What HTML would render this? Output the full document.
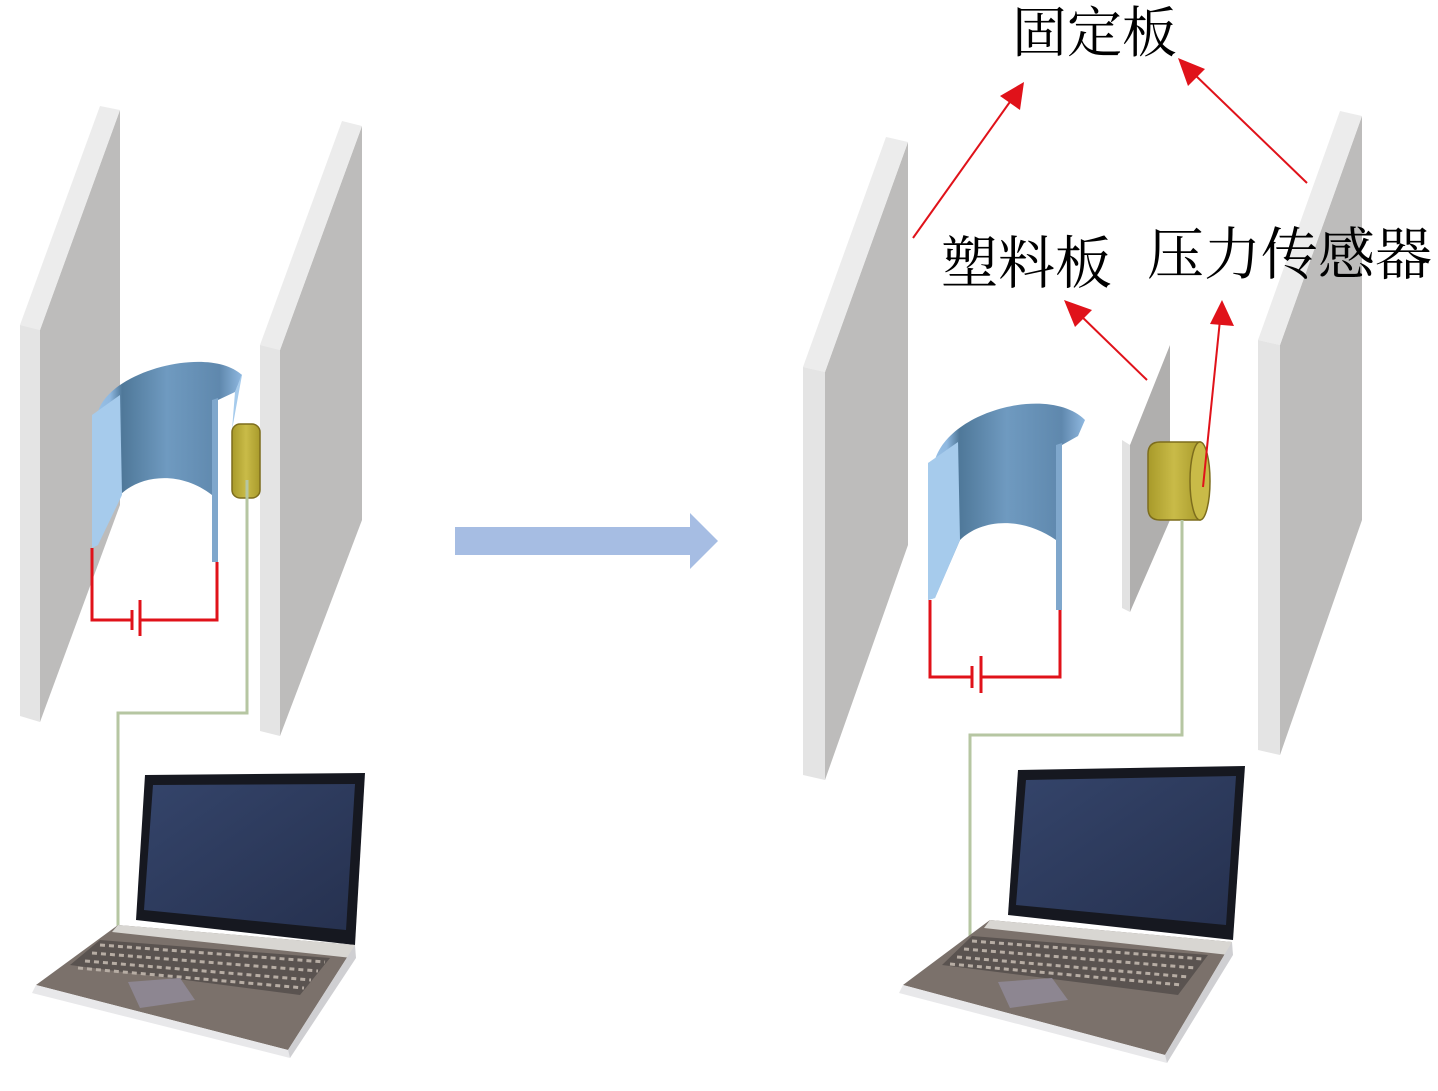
<!DOCTYPE html>
<html><head><meta charset="utf-8"><style>
html,body{margin:0;padding:0;background:#fff;}
svg{display:block}
text{font-family:"Liberation Serif","Noto Serif CJK SC",serif;fill:#000}
</style></head><body>
<svg width="1438" height="1091" viewBox="0 0 1438 1091" xmlns="http://www.w3.org/2000/svg">
<defs>
<linearGradient id="cyl" x1="0" x2="1" y1="0" y2="0">
<stop offset="0" stop-color="#9cc4e8"/><stop offset="0.12" stop-color="#8fb8e0"/>
<stop offset="0.2" stop-color="#4f7899"/><stop offset="0.5" stop-color="#6f9ac0"/>
<stop offset="0.85" stop-color="#5f88ad"/><stop offset="1" stop-color="#8fb8e0"/>
</linearGradient>
<linearGradient id="scr" x1="0" x2="1" y1="0" y2="1">
<stop offset="0" stop-color="#34446a"/><stop offset="1" stop-color="#26314f"/>
</linearGradient>
<linearGradient id="yel" x1="0" x2="1"><stop offset="0" stop-color="#a89a2a"/><stop offset="0.5" stop-color="#c9bb48"/><stop offset="1" stop-color="#a99b2c"/></linearGradient>
<marker id="ah" markerWidth="10" markerHeight="10" refX="8" refY="5" orient="auto" markerUnits="userSpaceOnUse" viewBox="0 0 10 10">
</marker>
</defs>

<!-- LEFT PANEL -->
<!-- plate A -->
<polygon points="40,330 120,110 120,505 40,722" fill="#bdbcbb"/>
<polygon points="20,325 100,106 120,110 40,330" fill="#ececec"/>
<polygon points="20,325 40,330 40,722 20,716" fill="#e4e4e4"/>
<!-- plate B -->
<polygon points="280,350 362,126 362,520 280,736" fill="#bdbcbb"/>
<polygon points="260,345 342,121 362,126 280,350" fill="#ececec"/>
<polygon points="260,345 280,350 280,736 260,731" fill="#e4e4e4"/>
<!-- cylinder left -->
<path d="M92,415 L98,412 C110,370 210,345 242,375 L235,392 L218,400 L218,562 L212,562 L212,495 C180,470 140,475 120,495 L98,545 L92,548 Z" fill="url(#cyl)"/>
<path d="M92,415 L120,395 L122,495 L98,545 L92,548 Z" fill="#a6cbec"/>
<path d="M212,400 L218,398 L218,562 L212,562 Z" fill="#7fa7cc"/>
<path d="M235,392 C240,380 242,372 242,375 L232,430 Z" fill="#a6cbec"/>
<!-- sensor left -->
<rect x="232" y="424" width="28" height="74" rx="8" fill="url(#yel)" stroke="#7d6d1d" stroke-width="1.5"/>
<!-- circuit left -->
<polyline points="92,548 92,620 132,620" fill="none" stroke="#e0121a" stroke-width="3"/>
<polyline points="141,620 217,620 217,562" fill="none" stroke="#e0121a" stroke-width="3"/>
<line x1="132" y1="610" x2="132" y2="630" stroke="#e0121a" stroke-width="3"/>
<line x1="140" y1="600" x2="140" y2="636" stroke="#e0121a" stroke-width="3"/>
<!-- wire left -->
<polyline points="247,480 247,713 118,713 118,935" fill="none" stroke="#b6c6a2" stroke-width="3"/>
<!-- laptop left -->
<polygon points="145,775 365,773 355,945 136,920" fill="#161820"/>
<polygon points="153,785 355,784 346,930 144,910" fill="url(#scr)"/>
<polygon points="36,985 118,925 355,945 288,1050" fill="#7b716b"/>
<polygon points="118,925 355,945 352,958 112,932" fill="#d8d6d2"/>
<polygon points="100,940 330,958 300,995 70,965" fill="#5a5350"/>
<g stroke="#b7ada4" stroke-width="3" stroke-dasharray="5 4">
<line x1="100" y1="945" x2="325" y2="962"/><line x1="92" y1="953" x2="318" y2="971"/>
<line x1="85" y1="961" x2="311" y2="980"/><line x1="78" y1="968" x2="304" y2="988"/>
</g>
<polygon points="128,982 180,978 195,1000 140,1008" fill="#8d8691"/>
<polygon points="36,985 288,1050 290,1058 32,993" fill="#e8e8ea"/>
<polygon points="288,1050 355,945 356,958 290,1058" fill="#cfcfd2"/>

<!-- Big arrow -->
<polygon points="455,527 690,527 690,513 718,541 690,569 690,555 455,555" fill="#a6bde3"/>

<!-- RIGHT PANEL -->
<!-- plate C -->
<polygon points="825,372 908,142 908,545 825,780" fill="#bdbcbb"/>
<polygon points="803,367 886,137 908,142 825,372" fill="#ececec"/>
<polygon points="803,367 825,372 825,780 803,775" fill="#e4e4e4"/>
<!-- plate D -->
<polygon points="1280,345 1362,116 1362,520 1280,755" fill="#bdbcbb"/>
<polygon points="1258,340 1340,111 1362,116 1280,345" fill="#ececec"/>
<polygon points="1258,340 1280,345 1280,755 1258,750" fill="#e4e4e4"/>
<!-- plastic plate -->
<polygon points="1130,445 1170,345 1170,520 1130,612" fill="#b0afae"/>
<polygon points="1122,440 1130,445 1130,612 1122,608" fill="#e2e2e2"/>
<!-- cylinder right -->
<path d="M928,463 L935,460 C950,410 1050,385 1085,420 L1078,436 L1062,445 L1062,610 L1056,610 L1056,540 C1020,515 980,520 960,540 L935,598 L928,600 Z" fill="url(#cyl)"/>
<path d="M928,463 L958,442 L960,540 L935,598 L928,600 Z" fill="#a6cbec"/>
<path d="M1056,445 L1062,443 L1062,610 L1056,610 Z" fill="#7fa7cc"/>
<!-- sensor right -->
<path d="M1160,442 L1200,442 L1200,520 L1160,520 Q1148,520 1148,508 L1148,454 Q1148,442 1160,442 Z" fill="url(#yel)" stroke="#7d6d1d" stroke-width="1.5"/>
<ellipse cx="1200" cy="481" rx="10" ry="39" fill="#c9bb48" stroke="#7d6d1d" stroke-width="1.5"/>
<!-- circuit right -->
<polyline points="930,600 930,677 972,677" fill="none" stroke="#e0121a" stroke-width="3"/>
<polyline points="982,677 1060,677 1060,610" fill="none" stroke="#e0121a" stroke-width="3"/>
<line x1="972" y1="666" x2="972" y2="688" stroke="#e0121a" stroke-width="3"/>
<line x1="981" y1="656" x2="981" y2="693" stroke="#e0121a" stroke-width="3"/>
<!-- wire right -->
<polyline points="1182,520 1182,735 970,735 970,940" fill="none" stroke="#b6c6a2" stroke-width="3"/>
<!-- laptop right -->
<polygon points="1018,770 1245,766 1233,940 1008,915" fill="#161820"/>
<polygon points="1026,780 1236,776 1226,925 1016,905" fill="url(#scr)"/>
<polygon points="903,985 990,920 1232,942 1165,1055" fill="#7b716b"/>
<polygon points="990,920 1232,942 1229,955 984,928" fill="#d8d6d2"/>
<polygon points="972,936 1208,955 1178,995 942,965" fill="#5a5350"/>
<g stroke="#b7ada4" stroke-width="3" stroke-dasharray="5 4">
<line x1="972" y1="941" x2="1203" y2="959"/><line x1="964" y1="949" x2="1196" y2="968"/>
<line x1="957" y1="957" x2="1189" y2="977"/><line x1="950" y1="964" x2="1182" y2="985"/>
</g>
<polygon points="998,982 1052,978 1068,1000 1010,1008" fill="#8d8691"/>
<polygon points="903,985 1165,1055 1167,1063 899,993" fill="#e8e8ea"/>
<polygon points="1165,1055 1232,942 1233,955 1167,1063" fill="#cfcfd2"/>

<!-- red arrows -->
<g stroke="#e0121a" stroke-width="2" fill="#e0121a">
<line x1="913" y1="238" x2="1012" y2="99"/>
<polygon points="1024,82 1020,110 1000,96" stroke="none"/>
<line x1="1307" y1="183" x2="1192" y2="72"/>
<polygon points="1178,58 1205,69 1188,86" stroke="none"/>
<line x1="1147" y1="380" x2="1078" y2="313"/>
<polygon points="1064,300 1092,310 1075,327" stroke="none"/>
<line x1="1203" y1="487" x2="1220" y2="320"/>
<polygon points="1222,300 1234,326 1210,324" stroke="none"/>
</g>

<!-- labels -->
<text x="1012" y="52" font-size="55">固定板</text>
<text x="941" y="283" font-size="57">塑料板</text>
<text x="1147" y="274" font-size="57">压力传感器</text>
</svg>
</body></html>
